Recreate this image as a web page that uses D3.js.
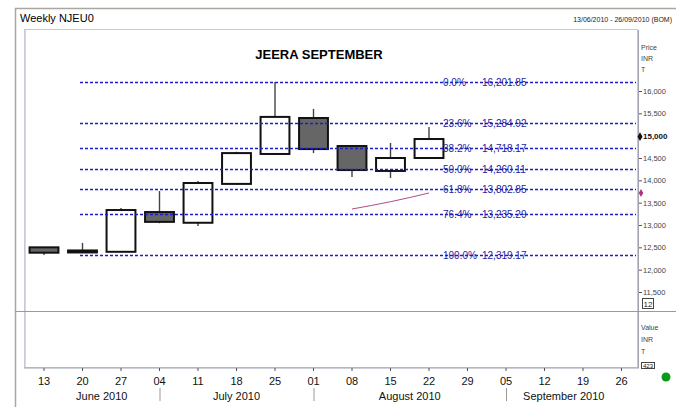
<!DOCTYPE html>
<html><head><meta charset="utf-8">
<script src="https://cdn.jsdelivr.net/npm/d3@7"></script>
<style>body{margin:0;background:#fff}svg{display:block}text{font-family:"Liberation Sans",Arial,sans-serif}</style>
</head><body><svg id="c" width="676" height="407"></svg>
<script>
const weeks = ["13","20","27","04","11","18","25","01","08","15","22","29","05","12","19","26"];
const candleWeeks = ["13","20","27","04","11","18","25","01","08","15","22"];
const open  = [12500,12430,12400,13290,13050,13920,14590,15395,14768,14210,14500];
const high  = [12510,12600,13380,13760,13985,14640,16200,15600,14770,14836,15195];
const low   = [12330,12390,12390,13040,12980,13900,14580,14610,14075,14052,14490];
const close = [12380,12400,13335,13070,13940,14610,15420,14700,14230,14500,14925];
const maWeeks = ["08","15","22"];
const maValues = [13358,13521,13716];
const fibPct = ["0.0%","23.6%","38.2%","50.0%","61.8%","76.4%","100.0%"];
const fibValues = [16201.85,15284.92,14718.17,14260.11,13802.85,13235.29,12319.17];
const priceTicks = [16000,15500,15000,14500,14000,13500,13000,12500,12000,11500];
const lastPriceMark = 15000;
const months = ["June 2010","July 2010","August 2010","September 2010"];
const monthCenters = ["20|27","18","15|22","12|19"];
const monthSeps = ["04","01","05"];

const svg = d3.select("#c");
const x = d3.scaleBand().domain(weeks).range([24.75,640.75]).paddingInner(0.25).paddingOuter(0.125);
const cx = w => x(w) + x.bandwidth()/2;
const y = d3.scaleLinear().domain([11500,16000]).range([292,91]);

// outer frame
svg.append("line").attr("x1",15.5).attr("x2",15.5).attr("y1",8).attr("y2",407).attr("stroke","#a8a8a0").attr("stroke-width",1.5);
svg.append("line").attr("x1",15).attr("x2",676).attr("y1",8.5).attr("y2",8.5).attr("stroke","#a8a8a0").attr("stroke-width",1.5);
svg.append("text").attr("x",20).attr("y",22).attr("font-size",11).text("Weekly NJEU0");
svg.append("text").attr("x",672).attr("y",22).attr("font-size",7).attr("text-anchor","end").attr("fill","#222").text("13/06/2010 - 26/09/2010 (BOM)");

// inner frame
svg.append("rect").attr("x",24.5).attr("y",29.5).attr("width",613).attr("height",338).attr("fill","none").attr("stroke","#c8c8d8").attr("stroke-width",1);
svg.append("line").attr("x1",25.5).attr("x2",25.5).attr("y1",30).attr("y2",368).attr("stroke","#d8d8e8");
svg.append("line").attr("x1",638.5).attr("x2",638.5).attr("y1",30).attr("y2",368).attr("stroke","#a0a0b0");
svg.append("line").attr("x1",24).attr("x2",639).attr("y1",368).attr("y2",368).attr("stroke","#a0a0b0");
svg.append("line").attr("x1",15).attr("x2",676).attr("y1",311.5).attr("y2",311.5).attr("stroke","#9898a8");

// title
svg.append("text").attr("x",319).attr("y",59).attr("text-anchor","middle").attr("font-size",13).attr("font-weight","bold").text("JEERA SEPTEMBER");

// candles
const cd = candleWeeks.map((w,i)=>({w,o:open[i],h:high[i],l:low[i],c:close[i]}));
const g = svg.append("g");
g.selectAll("line.wick").data(cd).join("line").attr("class","wick")
 .attr("x1",d=>cx(d.w)).attr("x2",d=>cx(d.w)).attr("y1",d=>y(d.h)).attr("y2",d=>y(d.l))
 .attr("stroke","#444").attr("stroke-width",1.4);
g.selectAll("rect.body").data(cd).join("rect").attr("class","body")
 .attr("x",d=>x(d.w)).attr("width",x.bandwidth())
 .attr("y",d=>y(Math.max(d.o,d.c))).attr("height",d=>Math.max(2,Math.abs(y(d.o)-y(d.c))))
 .attr("fill",d=>d.c>=d.o?"#fff":"#666").attr("stroke","#111").attr("stroke-width",2);

// moving average
svg.append("path").datum(maWeeks.map((w,i)=>[cx(w),y(maValues[i])]))
 .attr("d",d3.line().curve(d3.curveMonotoneX)).attr("fill","none").attr("stroke","#b04a8a").attr("stroke-width",1);

// fib levels
fibValues.forEach((v,i)=>{
  const yy = Math.round(y(v))+0.5;
  svg.append("line").attr("x1",80).attr("x2",636).attr("y1",yy).attr("y2",yy)
    .attr("stroke","#1c1ccc").attr("stroke-width",1.3).attr("stroke-dasharray","3,2");
  svg.append("text").attr("x",443).attr("y",yy+3.5).attr("font-size",10).attr("fill","#2424a4").text(fibPct[i]);
  svg.append("text").attr("x",482).attr("y",yy+3.5).attr("font-size",10).attr("fill","#2424a4").text(d3.format(",.2f")(v));
});

// price axis
const pa = svg.append("g");
pa.selectAll("line").data(priceTicks).join("line").attr("x1",639).attr("x2",642)
  .attr("y1",d=>y(d)+0.5).attr("y2",d=>y(d)+0.5).attr("stroke","#555");
pa.selectAll("text").data(priceTicks.filter(d=>d!==lastPriceMark)).join("text").attr("x",643).attr("y",d=>y(d)+3)
  .attr("font-size",7.5).attr("fill","#444").text(d=>d3.format(",")(d));
svg.append("text").attr("x",643).attr("y",y(lastPriceMark)+3).attr("font-size",8).attr("font-weight","bold").attr("fill","#111").text(d3.format(",")(lastPriceMark));
svg.append("path").attr("d",d3.symbol(d3.symbolDiamond,22)()).attr("transform",`translate(640,${y(lastPriceMark)+1})`).attr("fill","#111");
svg.append("path").attr("d",d3.symbol(d3.symbolDiamond,18)()).attr("transform",`translate(641,${y(maValues[maValues.length-1])})`).attr("fill","#b03080");
[["Price",50],["INR",61],["T",72]].forEach(([t,yy])=>svg.append("text").attr("x",641).attr("y",yy).attr("font-size",7).attr("fill","#444").text(t));
svg.append("rect").attr("x",642.5).attr("y",298.5).attr("width",11).attr("height",10).attr("fill","#fff").attr("stroke","#444");
svg.append("text").attr("x",648).attr("y",307).attr("text-anchor","middle").attr("font-size",8).attr("fill","#222").text("12");
[["Value",330],["INR",342],["T",354]].forEach(([t,yy])=>svg.append("text").attr("x",641).attr("y",yy).attr("font-size",7).attr("fill","#444").text(t));
svg.append("rect").attr("x",641.5).attr("y",362.5).attr("width",13).attr("height",6).attr("fill","#fff").attr("stroke","#444");
svg.append("text").attr("x",648).attr("y",368).attr("text-anchor","middle").attr("font-size",6).attr("fill","#222").text("423");
svg.append("circle").attr("cx",666).attr("cy",377).attr("r",4.5).attr("fill","#0a9a1a");

// x axis
const xa = svg.append("g");
xa.selectAll("line").data(weeks).join("line").attr("x1",d=>cx(d)).attr("x2",d=>cx(d)).attr("y1",368).attr("y2",371).attr("stroke","#555");
xa.selectAll("text").data(weeks).join("text").attr("x",d=>cx(d)).attr("y",385).attr("text-anchor","middle")
  .attr("font-size",11).attr("fill","#111").text(d=>d);
months.forEach((m,i)=>{
  const ws = monthCenters[i].split("|");
  const mx = d3.mean(ws,w=>cx(w));
  svg.append("text").attr("x",mx).attr("y",400).attr("text-anchor","middle").attr("font-size",11)
   .attr("fill","#111").text(m);
});
monthSeps.forEach(w=>svg.append("line").attr("x1",cx(w)+0.5).attr("x2",cx(w)+0.5).attr("y1",388).attr("y2",401).attr("stroke","#999"));
</script></body></html>
